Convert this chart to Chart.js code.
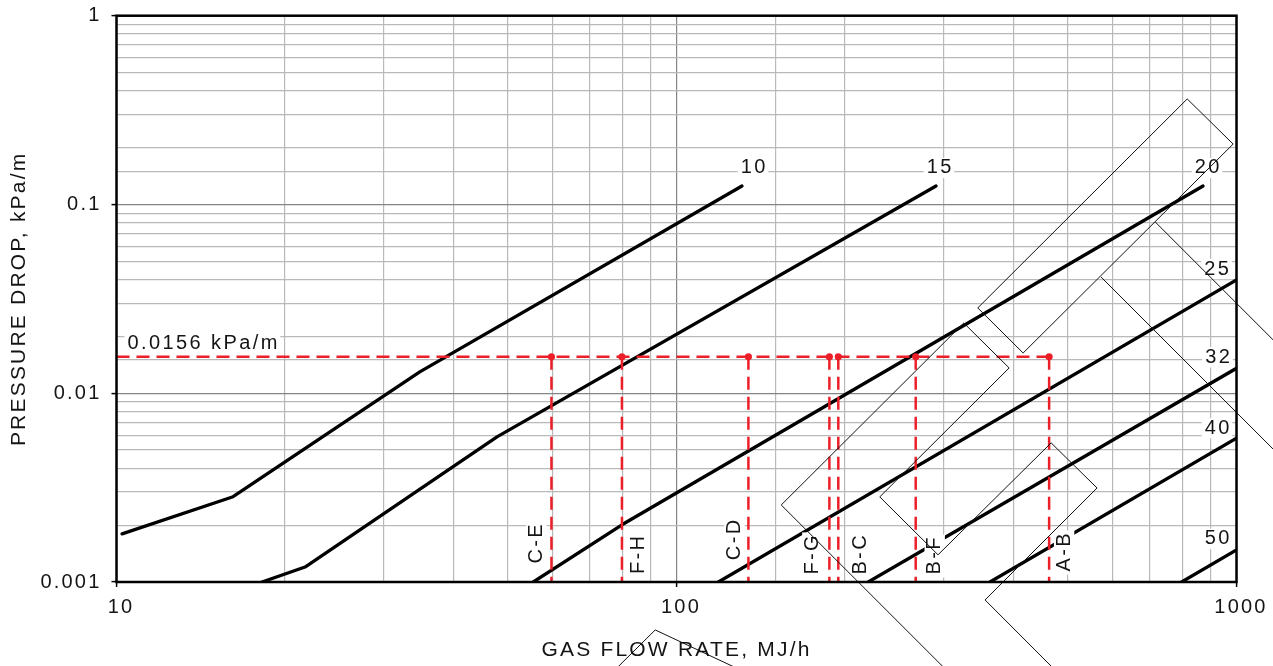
<!DOCTYPE html>
<html>
<head>
<meta charset="utf-8">
<script src="https://cdn.jsdelivr.net/npm/chart.js@4.4.1/dist/chart.umd.min.js"></script>
<style>
html,body{margin:0;padding:0;background:#fff;}
#wrap{width:1273px;height:666px;}
</style>
</head>
<body>
<div id="wrap"><canvas id="dropChart" width="1273" height="666"></canvas></div>
<script>
/* =========================
   PIPE SIZING DATA
   (flow MJ/h, drop kPa/m)
========================= */

const pipeSizes = ["10","15","20","25","32","40","50"];

const flow10 = [10.23, 16.15, 34.8, 130.9];
const drop10 = [0.0018, 0.00283, 0.01297, 0.1253];

const flow15 = [18.19, 21.71, 47.8, 290.7];
const drop15 = [0.001, 0.0012, 0.00587, 0.1253];

const flow20 = [55.5, 79.9, 871.4];
const drop20 = [0.001, 0.00201, 0.1253];

const flow25 = [118.8, 1000];
const drop25 = [0.001, 0.0398];

const flow32 = [220, 1000];
const drop32 = [0.001, 0.01356];

const flow40 = [362.9, 1000];
const drop40 = [0.001, 0.00578];

const flow50 = [798.1, 1000];
const drop50 = [0.001, 0.00148];

const branchNames = ["C-E","F-H","C-D","F-G","B-C","B-F","A-B"];
const branchFlow = [59.8, 79.9, 134.4, 187.5, 194.5, 267.4, 462.8];
const designDrop = 0.0156;
const designLabel = "0.0156 kPa/m";

const xTickLabels = [10, 100, 1000];
const yTickLabels = [0.001, 0.01, 0.1, 1];

/* =========================
   STYLE / PLACEMENT
========================= */

const FAMILY = "'Liberation Sans', Arial, Helvetica, sans-serif";
const INK = "#141414";
const RED = "#ec1f28";
const LABEL_SIZE = 20;
const LABEL_GAP = 2.4;

const flows = [flow10, flow15, flow20, flow25, flow32, flow40, flow50];
const drops = [drop10, drop15, drop20, drop25, drop32, drop40, drop50];

// size label offset (px) from the last point of its line
const sizeLabelShift = [[11,-18],[3,-18],[4,-18],[-20,-11],[-19,-11],[-19.5,-10],[-19.5,-11]];

// branch label: px shift from its dashed line, px height above the x axis
const branchLabelShift = [[-15,38],[17,27],[-14,42],[-17,27],[22,27],[19,26],[15,29.5]];

// stray rotated box outlines of the original drawing, in log10(x), log10(y)
const boxOutlines = [
  [[2.538,-1.548],[2.912,-0.441],[2.994,-0.680],[2.619,-1.787],[2.538,-1.548]],
  [[2.855,-1.093],[3.292,-2.390]],
  [[2.758,-1.384],[3.292,-2.968]],
  [[2.535,-3.624],[2.187,-2.592],[2.513,-1.628],[2.594,-1.866],[2.363,-2.549],
   [2.467,-2.856],[2.669,-2.263],[2.751,-2.502],[2.551,-3.095],[2.729,-3.624]],
  [[1.863,-3.545],[1.962,-3.254],[2.171,-3.545]]
];

function isDecade(v){
  const l = Math.log10(v);
  return Math.abs(l - Math.round(l)) < 1e-6;
}

function pickLabel(list, v){
  const t = list.find(t => Math.abs(Math.log10(t / v)) < 1e-6);
  return t === undefined ? "" : String(t);
}

function tag(ctx, text, px, py, rot, align){
  ctx.save();
  ctx.translate(px, py);
  ctx.rotate(rot);
  ctx.font = LABEL_SIZE + "px " + FAMILY;
  ctx.letterSpacing = LABEL_GAP + "px";
  const w = ctx.measureText(text).width - LABEL_GAP;
  const x0 = align === "left" ? 0 : -w / 2;
  const h = LABEL_SIZE * 0.36 + 3;
  ctx.fillStyle = "#fff";
  ctx.fillRect(x0 - 3, -h, w + 6, 2 * h);
  ctx.fillStyle = INK;
  ctx.textAlign = "left";
  ctx.textBaseline = "middle";
  ctx.fillText(text, x0, 0);
  ctx.restore();
}

// keep the plot box where it is, whatever the label sizes
function noPad(scale){
  scale.paddingTop = 0;
  scale.paddingBottom = 0;
  scale.paddingLeft = 0;
  scale.paddingRight = 0;
}

const annotate = {
  id: "annotate",
  beforeDraw(chart){
    chart.ctx.letterSpacing = "2.2px";
  },
  afterDatasetsDraw(chart){
    const {ctx, chartArea: a, scales: {x, y}} = chart;

    // line labels
    tag(ctx, designLabel, x.getPixelForValue(10) + 11, y.getPixelForValue(designDrop) - 13.5, 0, "left");

    pipeSizes.forEach((s, i) => {
      const n = flows[i].length - 1;
      const px = x.getPixelForValue(flows[i][n]) + sizeLabelShift[i][0];
      const py = y.getPixelForValue(drops[i][n]) + sizeLabelShift[i][1];
      tag(ctx, s, px, py, 0, "center");
    });

    branchNames.forEach((b, i) => {
      const px = x.getPixelForValue(branchFlow[i]) + branchLabelShift[i][0];
      const py = a.bottom - branchLabelShift[i][1];
      tag(ctx, b, px, py, -Math.PI / 2, "center");
    });

    // outlines
    ctx.save();
    ctx.strokeStyle = "#111";
    ctx.lineWidth = 1;
    boxOutlines.forEach(pts => {
      ctx.beginPath();
      pts.forEach(([lx, ly], k) => {
        const px = x.getPixelForValue(Math.pow(10, lx));
        const py = y.getPixelForValue(Math.pow(10, ly));
        if (k) ctx.lineTo(px, py); else ctx.moveTo(px, py);
      });
      ctx.stroke();
    });

    // plot frame
    ctx.strokeStyle = "#000";
    ctx.lineWidth = 2.5;
    ctx.strokeRect(a.left, a.top, a.right - a.left, a.bottom - a.top);
    ctx.restore();
  }
};

/* =========================
   DATASETS
========================= */

const sizeSets = pipeSizes.map((s, i) => ({
  label: s,
  data: flows[i].map((f, j) => ({x: f, y: drops[i][j]})),
  borderColor: "#000",
  borderWidth: 3.3,
  borderCapStyle: "round",
  borderJoinStyle: "round",
  pointRadius: 0,
  order: 1
}));

const designSet = {
  label: "design",
  data: [{x: 10, y: designDrop}, {x: Math.max(...branchFlow), y: designDrop}],
  borderColor: RED,
  borderWidth: 2.5,
  borderDash: [13, 7],
  pointRadius: 0,
  order: 0
};

const branchSets = branchNames.map((b, i) => ({
  label: b,
  data: [{x: branchFlow[i], y: designDrop}, {x: branchFlow[i], y: 0.001}],
  borderColor: RED,
  borderWidth: 2.5,
  borderDash: [13, 7],
  pointRadius: c => c.dataIndex === 0 ? 3.6 : 0,
  pointBackgroundColor: RED,
  pointBorderWidth: 0,
  order: 0
}));

/* =========================
   CHART
========================= */

Chart.defaults.font.family = FAMILY;
Chart.defaults.color = INK;

const gridColor = c => isDecade(c.tick.value) ? "#858585" : "#b9b9b9";
const tickColor = c => isDecade(c.tick.value) ? "#000" : "rgba(0,0,0,0)";

new Chart(document.getElementById("dropChart").getContext("2d"), {
  type: "line",
  data: {datasets: [designSet, ...branchSets, ...sizeSets]},
  options: {
    responsive: false,
    devicePixelRatio: 1,
    animation: false,
    events: [],
    layout: {padding: {top: 15.7, right: 36.5, bottom: 0, left: 0}},
    plugins: {legend: {display: false}, tooltip: {enabled: false}},
    scales: {
      x: {
        type: "logarithmic",
        min: 10,
        max: 1000,
        afterFit(scale){ scale.height = 84; noPad(scale); },
        border: {display: false},
        grid: {color: gridColor, lineWidth: 1.2, tickLength: 5, tickWidth: 1.5, tickColor: tickColor},
        ticks: {
          autoSkip: false,
          maxRotation: 0,
          padding: 8,
          labelOffset: 4.5,
          color: INK,
          font: {size: 20},
          callback: v => pickLabel(xTickLabels, v)
        },
        title: {
          display: true,
          text: "GAS FLOW RATE, MJ/h",
          color: INK,
          font: {size: 21},
          padding: {top: 0, bottom: 3}
        }
      },
      y: {
        type: "logarithmic",
        min: 0.001,
        max: 1,
        afterFit(scale){ scale.width = 116.5; noPad(scale); },
        border: {display: false},
        grid: {color: gridColor, lineWidth: 1.2, tickLength: 5, tickWidth: 1.5, tickColor: tickColor},
        ticks: {
          autoSkip: false,
          padding: 10,
          color: INK,
          font: {size: 20},
          callback: v => pickLabel(yTickLabels, v)
        },
        title: {
          display: true,
          text: "PRESSURE DROP, kPa/m",
          color: INK,
          font: {size: 21},
          padding: {top: 7, bottom: 0}
        }
      }
    }
  },
  plugins: [annotate]
});
</script>
</body>
</html>
